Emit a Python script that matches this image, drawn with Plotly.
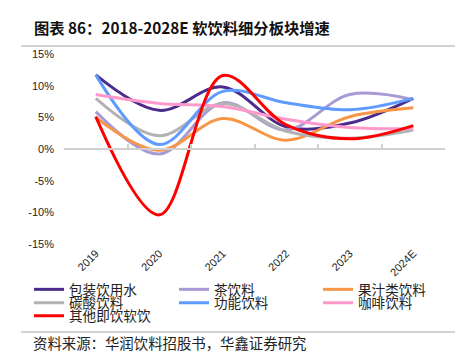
import plotly.graph_objects as go

years = ["2019", "2020", "2021", "2022", "2023", "2024E"]
series_names = ["包装饮用水", "茶饮料", "果汁类饮料", "碳酸饮料", "功能饮料", "咖啡饮料", "其他即饮软饮"]
water = [11.7, 6.1, 9.8, 3.5, 4.1, 8.0]
tea = [5.9, -0.8, 7.3, 3.0, 8.6, 7.8]
juice = [5.0, -0.2, 4.8, 1.4, 5.1, 6.5]
carbonated = [8.0, 2.1, 7.2, 2.8, 1.7, 3.0]
functional = [11.7, 0.7, 9.1, 7.3, 6.2, 8.0]
coffee = [8.6, 7.2, 6.7, 4.7, 3.4, 3.2]
other = [5.1, -10.4, 11.6, 3.8, 1.6, 3.7]
y_ticks = [-15, -10, -5, 0, 5, 10, 15]

series_values = [water, tea, juice, carbonated, functional, coffee, other]
colors = ["#4B2C8C", "#A99AD6", "#F79646", "#B3B3B3", "#5F9BFF", "#FF99CC", "#FF0000"]

W, H = 467, 362
L, R, T, B = 64, 22, 54, 118
pw, ph = W - L - R, H - T - B


def px_x(p):
    return (p - L) / pw


def px_y(p):
    return (H - B - p) / ph


# legend grid: 3 columns, rows filled left-to-right
col_px = [35, 180, 324]
row_px = [289.5, 303, 316]

cjk = "Noto Sans CJK SC"
fig = go.Figure()
layout_legends = {}
for i, (name, vals, col) in enumerate(zip(series_names, series_values, colors)):
    lid = "legend" if i == 0 else f"legend{i + 1}"
    fig.add_trace(go.Scatter(
        x=years, y=vals, name=name, mode="lines",
        line=dict(color=col, width=3, shape="spline", smoothing=1.0),
        legend=lid, hoverinfo="skip",
    ))
    layout_legends[lid] = dict(
        x=px_x(col_px[i % 3] - 6), y=px_y(row_px[i // 3]),
        xanchor="left", yanchor="middle", orientation="h",
        font=dict(family=cjk, size=13.6, color="#222"),
        bgcolor="rgba(0,0,0,0)", itemwidth=30,
    )

fig.update_layout(
    width=W, height=H,
    margin=dict(l=L, r=R, t=T, b=B, pad=0),
    plot_bgcolor="white", paper_bgcolor="white",
    showlegend=True,
    xaxis=dict(
        type="category", categoryorder="array", categoryarray=years,
        range=[-0.5, len(years) - 0.5],
        showline=False, showgrid=False, zeroline=False, ticks="",
        tickangle=-45, tickfont=dict(family="Liberation Sans", size=11, color="#222"),
        fixedrange=True,
    ),
    xaxis2=dict(
        overlaying="x", anchor="free", position=0.5, side="bottom",
        range=[-0.5, len(years) - 0.5],
        tickmode="array", tickvals=[i - 0.5 for i in range(len(years) + 1)],
        showticklabels=False, ticks="inside", ticklen=4, tickwidth=1.5, tickcolor="#D0D0D0",
        showline=True, linecolor="#D0D0D0", linewidth=1.5,
        showgrid=False, zeroline=False,
    ),
    yaxis=dict(
        range=[-15, 15], tickvals=y_ticks, ticktext=[f"{v}%" for v in y_ticks],
        showgrid=False, zeroline=False, showline=False, ticks="",
        tickfont=dict(family="Liberation Sans", size=11, color="#222"),
        ticklabelstandoff=9,
    ),
    **layout_legends,
)

# dummy trace to activate xaxis2 (no visible marks)
fig.add_trace(go.Scatter(x=[None], y=[None], xaxis="x2", showlegend=False, hoverinfo="skip"))

fig.add_annotation(
    text="<b>图表 86：2018-2028E 软饮料细分板块增速</b>", xref="paper", yref="paper",
    x=px_x(32), y=px_y(26.5), xanchor="left", yanchor="middle", showarrow=False,
    font=dict(family=cjk, size=15.3, color="#111"),
)
fig.add_annotation(
    text="资料来源：华润饮料招股书，华鑫证券研究", xref="paper", yref="paper",
    x=px_x(31), y=px_y(342.5), xanchor="left", yanchor="middle", showarrow=False,
    font=dict(family=cjk, size=14.4, color="#222"),
)
for yy in (46, 332):
    fig.add_shape(type="line", xref="paper", yref="paper",
                  x0=px_x(21), x1=px_x(455), y0=px_y(yy), y1=px_y(yy),
                  line=dict(color="#A6A6A6", width=1))

fig.write_html("out.html", config={"displayModeBar": False},
               post_script="document.body.style.margin='0';")
